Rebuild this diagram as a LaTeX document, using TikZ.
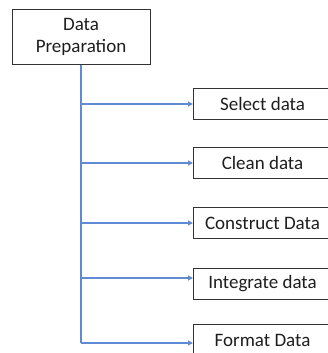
\documentclass[tikz,border=0pt]{standalone}
\usepackage{fontspec}
\setmainfont{Carlito}
\usetikzlibrary{arrows.meta}
\definecolor{lineblue}{RGB}{95,138,212}
\definecolor{boxgray}{RGB}{50,50,50}
\definecolor{textgray}{RGB}{30,30,30}
\begin{document}
\begin{tikzpicture}[x=1pt,y=-1pt,
  box/.style={draw=boxgray, line width=1pt, fill=white, text=textgray, minimum width=138pt, minimum height=31pt, inner sep=0pt, font=\fontsize{19}{21.5}\selectfont, align=center},
  branch/.style={draw=lineblue, line width=1.2pt, -{Triangle[length=5pt,width=5pt]}},
  stem/.style={draw=lineblue, line width=1.2pt}]
\useasboundingbox (0,0) rectangle (328,353);
\clip (0,0) rectangle (328,353);
\node[box, minimum height=54pt] (prep) at (81,37) {Data\\Preparation};
\node[box, anchor=north west] (sel) at (193,88) {Select data};
\node[box, anchor=north west] (cln) at (193,147) {Clean data};
\node[box, anchor=north west] (con) at (193,207) {Construct Data};
\node[box, anchor=north west] (int) at (193,268) {Integrate data};
\node[box, anchor=north west] (fmt) at (193,324) {Format Data};
\coordinate (b1) at (81,104);
\coordinate (b2) at (81,163);
\coordinate (b3) at (81,223);
\coordinate (b4) at (81,278);
\coordinate (b5) at (81,343);
\draw[stem] (prep.south) -- (b5);
\draw[branch] (b1) -- (b1 -| sel.west);
\draw[branch] (b2) -- (b2 -| cln.west);
\draw[branch] (b3) -- (b3 -| con.west);
\draw[branch] (b4) -- (b4 -| int.west);
\draw[branch] (b5) -- (b5 -| fmt.west);
\end{tikzpicture}
\end{document}
